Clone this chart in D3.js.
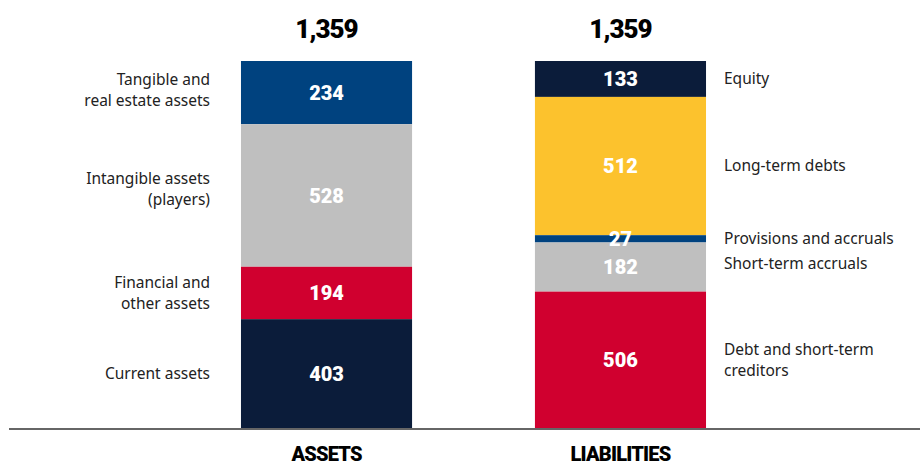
<!DOCTYPE html>
<html>
<head>
<meta charset="utf-8">
<script src="https://cdn.jsdelivr.net/npm/d3@7"></script>
<style>
  body { margin: 0; background: #fff; }
  .num { font-family: Roboto, sans-serif; font-weight: 900; fill: #fff; }
  .total, .cat { font-family: Roboto, sans-serif; font-weight: 900; fill: #000; }
  .lbl { font-family: "Noto Sans", sans-serif; font-size: 15.5px; fill: #222; }
</style>
</head>
<body>
<svg width="920" height="465"></svg>
<script>
const sides = ['ASSETS', 'LIABILITIES'];
const totals = [1359, 1359];

// stacked from the top down
const assetLabels = [['Tangible and', 'real estate assets'], ['Intangible assets', '(players)'], ['Financial and', 'other assets'], ['Current assets']];
const assetValues = [234, 528, 194, 403];
const assetColors = ['#00427f', '#bfbfbf', '#d0002f', '#0b1c3a'];

const liabLabels = [['Equity'], ['Long-term debts'], ['Provisions and accruals'], ['Short-term accruals'], ['Debt and short-term', 'creditors']];
const liabValues = [133, 512, 27, 182, 506];
const liabColors = ['#0b1c3a', '#fcc22d', '#00427f', '#bfbfbf', '#d0002f'];
const liabShift = [0, 0, 0, -3, 0];  // nudge labels that would collide

const svg = d3.select('svg');
const barTop = 61, base = 428;

const x = d3.scaleBand().domain(sides).range([94, 853]).paddingInner(0.418).paddingOuter(0.5);
const y = d3.scaleLinear().domain([0, d3.max(totals)]).range([barTop, base]);

function stack(values) {
  let acc = 0;
  return values.map(v => { const s = acc; acc += v; return { v: v, y0: s, y1: acc }; });
}

function drawSide(side, values, colors, labels, shifts, labelX, anchor) {
  const segs = stack(values);
  const g = svg.append('g');
  g.selectAll('rect').data(segs).join('rect')
    .attr('x', x(side))
    .attr('width', x.bandwidth())
    .attr('y', d => y(d.y0))
    .attr('height', d => y(d.y1) - y(d.y0))
    .attr('fill', (d, i) => colors[i]);
  g.selectAll('text.num').data(segs).join('text')
    .attr('class', 'num')
    .attr('x', x(side) + x.bandwidth() / 2)
    .attr('y', d => (y(d.y0) + y(d.y1)) / 2)
    .attr('dy', '0.36em')
    .attr('text-anchor', 'middle')
    .attr('font-size', 20)
    .text(d => d.v);
  const lt = g.selectAll('text.lbl').data(segs).join('text')
    .attr('class', 'lbl')
    .attr('text-anchor', anchor)
    .attr('transform', (d, i) => `translate(${labelX},${(y(d.y0) + y(d.y1)) / 2 + shifts[i]})`);
  lt.each(function (d, i) {
    const lines = labels[i];
    const t = d3.select(this);
    lines.forEach((line, j) => {
      t.append('tspan').attr('x', 0)
        .attr('y', (j - (lines.length - 1) / 2) * 21)
        .attr('dy', '0.35em')
        .text(line);
    });
  });
}

drawSide('ASSETS', assetValues, assetColors, assetLabels, [-3, -6, 0, 0], 210, 'end');
drawSide('LIABILITIES', liabValues, liabColors, liabLabels, liabShift, 724, 'start');

// totals above bars
svg.selectAll('text.total').data(sides).join('text')
  .attr('class', 'total')
  .attr('x', d => x(d) + x.bandwidth() / 2)
  .attr('y', 38)
  .attr('text-anchor', 'middle')
  .attr('font-size', 26)
  .attr('letter-spacing', -1)
  .text((d, i) => d3.format(',')(totals[i]));

// baseline
svg.append('line')
  .attr('x1', 9).attr('x2', 920)
  .attr('y1', base + 1).attr('y2', base + 1)
  .attr('stroke', '#666').attr('stroke-width', 2);

// category names
svg.selectAll('text.cat').data(sides).join('text')
  .attr('class', 'cat')
  .attr('x', d => x(d) + x.bandwidth() / 2)
  .attr('y', 461)
  .attr('text-anchor', 'middle')
  .attr('font-size', 20)
  .attr('letter-spacing', -0.8)
  .text(d => d);
</script>
</body>
</html>
